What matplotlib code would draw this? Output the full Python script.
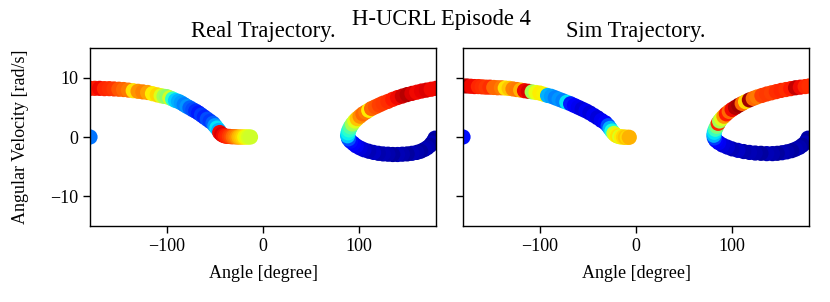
import matplotlib
matplotlib.use("Agg")
import matplotlib.pyplot as plt

# ---------------- data ----------------
# Real trajectory: angle [deg], angular velocity [rad/s], colour value (jet, 0..1)
real_angle = [
    -180,
    179, 178, 176, 174, 171, 168, 164, 160, 155, 150, 145, 140, 135, 130, 125,
    120, 115, 110, 105, 101, 97, 94, 91, 89,
    88, 88.5, 89.5, 91, 93, 95.5, 98, 101, 104, 107, 110, 113, 117, 121, 125,
    130, 135, 140, 145, 150, 155, 160, 165, 170, 175, 180,
    -180, -175, -170, -165, -160, -155, -150, -145, -140, -135, -130, -125,
    -120, -115, -110, -106, -103, -100, -97, -94, -91, -88, -85, -82, -79,
    -76, -73, -70, -67, -64, -61, -58, -55, -52, -50, -48, -46, -45, -43,
    -41, -39, -37, -35, -33, -31, -29, -27, -25, -23, -21, -19, -17, -15, -13,
]
real_velocity = [
    0.0,
    -0.2, -0.6, -1.0, -1.4, -1.8, -2.1, -2.4, -2.6, -2.75, -2.85, -2.9, -2.95,
    -2.95, -2.9, -2.85, -2.75, -2.6, -2.4, -2.15, -1.85, -1.5, -1.1, -0.7, -0.3,
    0.2, 0.7, 1.2, 1.7, 2.2, 2.7, 3.1, 3.5, 3.9, 4.2, 4.5, 4.8, 5.1, 5.4, 5.7,
    6.0, 6.35, 6.65, 6.9, 7.15, 7.35, 7.55, 7.75, 7.9, 8.05, 8.2,
    8.2, 8.2, 8.2, 8.15, 8.15, 8.1, 8.05, 8.0, 7.9, 7.8, 7.7, 7.6,
    7.5, 7.3, 7.1, 6.95, 6.85, 6.8, 6.6, 6.4, 6.15, 6.0, 5.75, 5.45, 5.15,
    4.9, 4.6, 4.35, 4.05, 3.7, 3.35, 3.0, 2.65, 2.3, 1.9, 1.5, 1.1, 0.75, 0.45,
    0.25, 0.15, 0.1, 0.1, 0.05, 0.05, 0.05, 0.0, 0.0, 0.0, 0.0, 0.0, 0.0, 0.0, 0.0,
]
real_color = [
    0.24,
    0.04, 0.03, 0.05, 0.03, 0.04, 0.05, 0.03, 0.04, 0.05, 0.03, 0.04, 0.05,
    0.03, 0.04, 0.05, 0.04, 0.06, 0.05, 0.07, 0.08, 0.1, 0.12, 0.14, 0.2,
    0.32, 0.36, 0.4, 0.45, 0.55, 0.62, 0.7, 0.76, 0.8, 0.78, 0.66, 0.8, 0.82,
    0.84, 0.85, 0.86, 0.88, 0.9, 0.93, 0.95, 0.92, 0.9, 0.91, 0.92, 0.9, 0.9,
    0.9, 0.88, 0.9, 0.87, 0.86, 0.85, 0.82, 0.8, 0.78, 0.67, 0.75, 0.77,
    0.74, 0.66, 0.68, 0.62, 0.55, 0.52, 0.6, 0.4, 0.33, 0.3, 0.28, 0.25, 0.27,
    0.22, 0.2, 0.17, 0.15, 0.18, 0.16, 0.2, 0.18, 0.22, 0.28, 0.35, 0.3, 0.9,
    0.92, 0.9, 0.88, 0.87, 0.85, 0.83, 0.8, 0.78, 0.75, 0.72, 0.7, 0.68, 0.65,
    0.63, 0.61, 0.6,
]

# Simulated trajectory
sim_angle = [
    -180,
    179, 178, 176, 173, 170, 166, 162, 157, 152, 147, 142, 136, 130, 124, 118,
    112, 106, 100, 95, 90, 86, 83, 81.5,
    81, 81.5, 82.5, 84, 85.5, 87, 89, 91.5, 94, 97, 100, 103.5, 107, 110.5, 114,
    118, 122, 126, 131, 136, 141, 146, 151, 156, 161, 166, 171, 176, 180,
    -180, -176, -172, -168, -164, -160, -156, -152, -148, -144, -140, -136,
    -132, -128, -124, -120, -116, -112, -108, -104, -100, -96, -92, -88, -84,
    -80, -76, -72, -68, -64, -60, -56, -52, -48, -44, -40, -36, -32, -29, -27,
    -25, -23, -21, -19, -17, -15, -13, -11, -9, -7,
]
sim_velocity = [
    0.0,
    -0.2, -0.6, -1.0, -1.4, -1.75, -2.05, -2.3, -2.5, -2.65, -2.75, -2.8, -2.8,
    -2.75, -2.7, -2.6, -2.45, -2.25, -2.0, -1.7, -1.35, -0.95, -0.55, -0.15,
    0.3, 0.8, 1.3, 1.8, 2.3, 2.7, 3.1, 3.5, 3.9, 4.3, 4.65, 5.0, 5.35, 5.65, 5.95,
    6.25, 6.5, 6.75, 7.0, 7.25, 7.45, 7.65, 7.85, 8.0, 8.15, 8.3, 8.4, 8.5, 8.6,
    8.6, 8.6, 8.55, 8.5, 8.5, 8.45, 8.4, 8.4, 8.35, 8.3, 8.3, 8.25,
    8.2, 8.1, 8.0, 7.9, 7.8, 7.7, 7.6, 7.5, 7.4, 7.2, 7.0, 6.85, 6.6,
    6.35, 6.1, 5.85, 5.6, 5.3, 5.0, 4.7, 4.4, 4.05, 3.65, 3.25, 2.8, 2.4, 1.9, 1.45,
    1.0, 0.6, 0.3, 0.15, 0.05, 0.0, 0.0, -0.05, -0.05, -0.05,
]
sim_color = [
    0.14,
    0.04, 0.03, 0.05, 0.03, 0.04, 0.05, 0.03, 0.04, 0.05, 0.03, 0.04, 0.05,
    0.03, 0.04, 0.05, 0.04, 0.06, 0.05, 0.07, 0.08, 0.1, 0.12, 0.18,
    0.3, 0.35, 0.42, 0.5, 0.87, 0.55, 0.62, 0.75, 0.88, 0.8, 0.9, 0.95, 0.97,
    0.8, 0.68, 0.97, 0.8, 0.78, 0.84, 0.85, 0.84, 0.86, 0.87, 0.86, 0.88, 0.94,
    0.9, 0.87, 0.86,
    0.93, 0.95, 0.9, 0.9, 0.87, 0.86, 0.85, 0.86, 0.8, 0.8, 0.78, 0.67,
    0.7, 0.77, 0.78, 0.72, 0.9, 0.92, 0.55, 0.63, 0.66, 0.65, 0.3, 0.28, 0.25,
    0.27, 0.25, 0.35, 0.15, 0.12, 0.1, 0.08, 0.1, 0.08, 0.1, 0.08, 0.1, 0.12,
    0.2, 0.3, 0.38, 0.6, 0.65, 0.67, 0.62, 0.66, 0.68, 0.7, 0.68, 0.72,
]

panel_titles = ["Real Trajectory.", "Sim Trajectory."]
suptitle = "H-UCRL Episode 4"
x_label = "Angle [degree]"
y_label = "Angular Velocity [rad/s]"
x_ticks = [-100, 0, 100]
y_ticks = [-10, 0, 10]

# ---------------- figure ----------------
plt.rcParams["font.family"] = ["Liberation Serif", "DejaVu Serif"]
plt.rcParams["mathtext.fontset"] = "stix"

W, H = 830, 302
fig = plt.figure(figsize=(W / 100, H / 100), dpi=100)
ax1 = fig.add_axes([90 / W, 1 - 226 / H, 346 / W, 178 / H])
ax2 = fig.add_axes([463 / W, 1 - 226 / H, 346 / W, 178 / H], sharey=ax1)

datasets = [(real_angle, real_velocity, real_color),
            (sim_angle, sim_velocity, sim_color)]

for ax, (xa, va, ca), title in zip([ax1, ax2], datasets, panel_titles):
    ax.scatter(xa, va, c=ca, cmap="jet", vmin=0, vmax=1, s=120,
               edgecolors="none")
    ax.set_xlim(-180, 180)
    ax.set_ylim(-15, 15)
    ax.set_xticks(x_ticks)
    ax.set_yticks(y_ticks)
    ax.set_title(title, fontsize=16.3, pad=8)
    ax.set_xlabel(x_label, fontsize=13, labelpad=7.5)
    ax.tick_params(labelsize=13, length=5, width=1.0)
    for sp in ax.spines.values():
        sp.set_linewidth(1.0)

ax1.set_ylabel(y_label, fontsize=13, labelpad=15)
ax2.tick_params(labelleft=False)

fig.text(0.532, 1 - 19 / H, suptitle, ha="center", va="center", fontsize=16.3)

fig.savefig("out.png", dpi=100)
